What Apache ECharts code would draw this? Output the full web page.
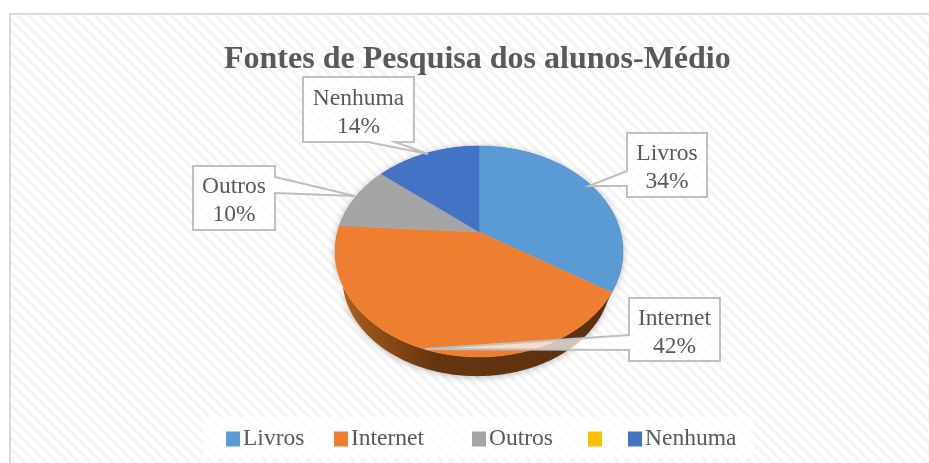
<!DOCTYPE html>
<html><head><meta charset="utf-8">
<style>html,body{margin:0;padding:0;background:#fff}#c{width:929px;height:463px}</style>
<script src="https://cdn.jsdelivr.net/npm/echarts@6/dist/echarts.min.js"></script>
</head><body><div id="c"></div>
<script>
// ---- data
var categories = ['Livros', 'Internet', 'Outros', ' ', 'Nenhuma'];
var shares = [34, 42, 10, 0, 14];
var titleText = 'Fontes de Pesquisa dos alunos-Médio';

// ---- styles and layout (separate from the data)
var topColors = ['#5b9bd5', '#ef7f30', '#a5a5a5', '#ffc000', '#4472c4'];
var legendLefts = [226, 334, 472, 588, 628];
var FONT = '"Liberation Serif","Times New Roman",serif';
var TXT = '#595959';
var view = {cx: 479, cy: 232, a: 141.5, b: 101.9, k: 0.1848,
  midY: 251.5, rimScale: 0.935, rimCx: 477, rimMidY: 277.5};
var calloutLayout = {
  'Livros':  {box: [627, 133, 707, 197], tip: [589, 186], side: 'left',   base: [171, 186]},
  'Internet':{box: [629, 298, 720, 361], tip: [425, 349], side: 'left',   base: [335, 350]},
  'Outros':  {box: [193, 166, 275, 230], tip: [355, 196], side: 'right',  base: [177, 193]},
  'Nenhuma': {box: [303, 77, 414, 142],  tip: [428, 154], side: 'bottom', base: [368, 395]}
};

function project(pct, drop) {
  var phi = pct / 100 * Math.PI * 2, x = Math.sin(phi), z = Math.cos(phi), w = 1 + view.k * z;
  var sx = view.cx + view.a * x / w, sy = view.cy - view.b * z / w;
  if (!drop) return [sx, sy];
  return [view.rimCx + (sx - view.cx) * view.rimScale, view.rimMidY + (sy - view.midY) * view.rimScale];
}
function arc(from, to, drop) {
  var pts = [], n = Math.max(2, Math.ceil((to - from) * 4));
  for (var i = 0; i <= n; i++) pts.push(project(from + (to - from) * i / n, drop));
  return pts;
}
var ranges = [], running = 0;
shares.forEach(function (s) { ranges.push([running, running + s]); running += s; });

function hatch() {
  var c = document.createElement('canvas'); c.width = c.height = 11;
  var g = c.getContext('2d');
  g.fillStyle = '#ffffff'; g.fillRect(0, 0, 11, 11);
  g.fillStyle = '#f5f5f5';
  for (var y = 0; y < 11; y++) for (var x = 0; x < 11; x++)
    if (((x - y + 22) % 11) < 5) g.fillRect(x, y, 1, 1);
  return c;
}
function sideFill(i) {
  var stops = i === 1
    ? [{offset: 0, color: '#ad6222'}, {offset: 0.12, color: '#935118'}, {offset: 0.35, color: '#64350f'}, {offset: 1, color: '#5c300f'}]
    : [{offset: 0, color: '#2d5f8b'}, {offset: 1, color: '#2d5f8b'}];
  return {type: 'linear', x: 340, y: 0, x2: 612, y2: 0, global: true, colorStops: stops};
}

var series = [];
// extruded rim
series.push({
  type: 'custom', name: 'rim', coordinateSystem: 'none', z: 2, silent: true,
  data: ranges,
  renderItem: function (p, api) {
    var from = api.value(0), to = api.value(1);
    if (to <= from) return {type: 'group', children: []};
    var pts = arc(from, to, false).concat(arc(from, to, true).reverse());
    return {type: 'polygon', shape: {points: pts}, style: {
      fill: sideFill(p.dataIndex), shadowBlur: 7, shadowColor: 'rgba(0,0,0,0.28)', shadowOffsetY: 1
    }};
  }
});
// top faces, one series per category so that the legend follows them
categories.forEach(function (name, i) {
  series.push({
    type: 'custom', name: name, coordinateSystem: 'none', z: 3, silent: true,
    itemStyle: {color: topColors[i]},
    data: [ranges[i]],
    renderItem: function (p, api) {
      var from = api.value(0), to = api.value(1);
      if (to <= from) return {type: 'group', children: []};
      return {type: 'polygon', shape: {points: [[view.cx, view.cy]].concat(arc(from, to, false))},
        style: {fill: topColors[i], stroke: topColors[i], lineWidth: 0.5}};
    }
  });
});
// callout labels
series.push({
  type: 'custom', name: 'callouts', coordinateSystem: 'none', z: 5, silent: true,
  data: categories.map(function (n, i) { return [shares[i]]; }),
  renderItem: function (p, api) {
    var name = categories[p.dataIndex], L = calloutLayout[name];
    if (!L) return {type: 'group', children: []};
    var b = L.box, t = L.tip, pts;
    if (L.side === 'left')
      pts = [[b[0], b[1]], [b[2], b[1]], [b[2], b[3]], [b[0], b[3]], [b[0], L.base[1]], t, [b[0], L.base[0]]];
    else if (L.side === 'right')
      pts = [[b[0], b[1]], [b[2], b[1]], [b[2], L.base[0]], t, [b[2], L.base[1]], [b[2], b[3]], [b[0], b[3]]];
    else
      pts = [[b[0], b[1]], [b[2], b[1]], [b[2], b[3]], [L.base[1], b[3]], t, [L.base[0], b[3]], [b[0], b[3]]];
    return {type: 'group', children: [
      {type: 'polygon', shape: {points: pts}, style: {fill: 'rgba(255,255,255,0.72)', stroke: '#bfbfbf', lineWidth: 2, lineJoin: 'miter'}},
      {type: 'text', style: {text: name + '\n' + api.value(0) + '%', x: (b[0] + b[2]) / 2, y: (b[1] + b[3]) / 2 + 3,
        align: 'center', verticalAlign: 'middle', fontFamily: FONT, fontSize: 23.5, lineHeight: 28, fill: TXT}}
    ]};
  }
});

var option = {
  animation: false,
  title: {text: titleText, left: 224, top: 44, itemGap: 0, padding: 0,
    textStyle: {fontFamily: FONT, fontSize: 32, fontWeight: 'bold', color: TXT}},
  graphic: [
    {type: 'rect', z: 0, silent: true, shape: {x: 10, y: 14, width: 940, height: 470},
      style: {fill: {image: hatch(), repeat: 'repeat'}, stroke: '#d9d9d9', lineWidth: 2}},
    {type: 'rect', z: 1, silent: true, shape: {x: 203, y: 417, width: 550, height: 41},
      style: {fill: 'rgba(255,255,255,0.72)'}}
  ],
  legend: categories.map(function (name, i) {
    return {data: [{name: name, icon: 'rect'}], left: legendLefts[i], top: 427, padding: 0,
      itemWidth: 14, itemHeight: 15, itemGap: 0, selectedMode: false,
      textStyle: {fontFamily: FONT, fontSize: 23.5, color: TXT, padding: [0, 0, 0, -2]}};
  }),
  series: series
};
echarts.init(document.getElementById('c'), null, {renderer: 'canvas'}).setOption(option);
</script></body></html>
